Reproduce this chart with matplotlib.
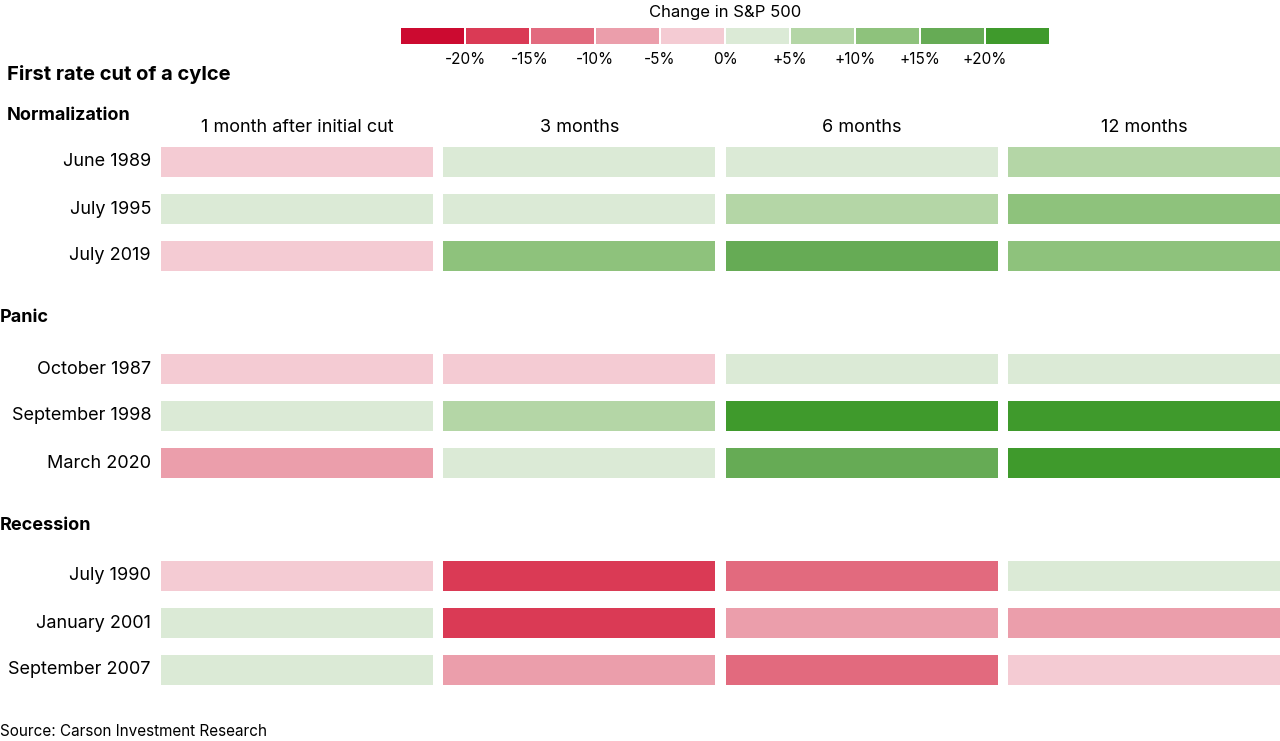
import matplotlib
matplotlib.use("Agg")
import matplotlib.pyplot as plt
from matplotlib.patches import Rectangle

plt.rcParams['font.family'] = ['Inter', 'DejaVu Sans']

columns = ["1 month after initial cut", "3 months", "6 months", "12 months"]
groups = ["Normalization", "Panic", "Recession"]
rows = [["June 1989", "July 1995", "July 2019"],
        ["October 1987", "September 1998", "March 2020"],
        ["July 1990", "January 2001", "September 2007"]]
values = [[[-2, 2, 3, 7], [2, 3, 7, 12], [-1, 12, 17, 12]],
          [[-2, -3, 2, 3], [3, 7, 22, 25], [-7, 3, 17, 22]],
          [[-1, -16, -12, 2], [3, -16, -7, -7], [3, -7, -12, -2]]]
bin_edges = [-20, -15, -10, -5, 0, 5, 10, 15, 20]
tick_labels = ["-20%", "-15%", "-10%", "-5%", "0%", "+5%", "+10%", "+15%", "+20%"]
colors = ["#cc0a30", "#da3a55", "#e26a7e", "#eb9eab", "#f4cbd3",
          "#dbead6", "#b4d6a6", "#8ec27c", "#66ab55", "#3f9a2c"]

def color_for(v):
    k = sum(v >= e for e in bin_edges)
    return colors[k]

fig = plt.figure(figsize=(12.8, 7.41), dpi=100)
ax = fig.add_axes([0, 0, 1, 1])
ax.set_xlim(0, 1280); ax.set_ylim(741, 0); ax.axis('off')

x0, cstep, cw = 161, 282.3, 272
rstep, rh = 47, 30
group_top = [115, 318, 525]
for g, gname in enumerate(groups):
    ax.text(7 if g == 0 else 0, group_top[g], gname, fontsize=13, fontweight='bold', va='center', ha='left')
    for i, rname in enumerate(rows[g]):
        yc = group_top[g] + 47 + (0 if g == 0 else 4) + i * rstep
        ax.text(151, yc, rname, fontsize=13, va='center', ha='right')
        for j, v in enumerate(values[g][i]):
            ax.add_patch(Rectangle((x0 + j * cstep, yc - rh / 2), cw, rh, color=color_for(v), lw=0))
for j, c in enumerate(columns):
    ax.text(x0 + j * cstep + cw / 2, 127, c, fontsize=13, ha='center', va='center')

ax.text(7, 75, "First rate cut of a cylce", fontsize=14.5, fontweight='bold', va='center')
ax.text(0, 731, "Source: Carson Investment Research", fontsize=11, va='center')

lx, lw_, ly = 400, 65, 36
for k, c in enumerate(colors):
    ax.add_patch(Rectangle((lx + k * lw_ + 1, ly - 8), lw_ - 2, 16, color=c, lw=0))
for k, t in enumerate(tick_labels):
    ax.text(lx + (k + 1) * lw_, 60, t, fontsize=11, ha='center', va='center')
ax.text(lx + 5 * lw_, 12, "Change in S&P 500", fontsize=12, ha='center', va='center')

fig.savefig("out.png", dpi=100)
